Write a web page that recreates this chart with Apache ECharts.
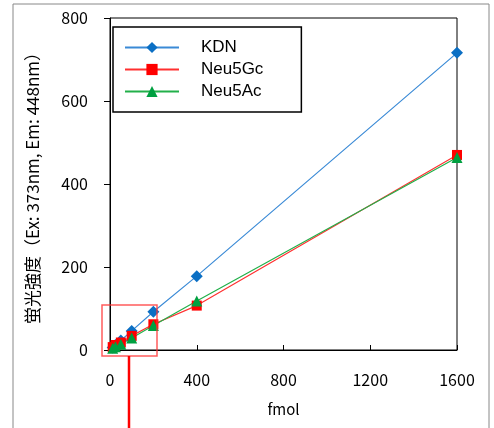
<!DOCTYPE html>
<html>
<head>
<meta charset="utf-8">
<script src="https://cdn.jsdelivr.net/npm/echarts@6/dist/echarts.min.js"></script>
<style>html,body{margin:0;padding:0;background:#fff}#c{width:494px;height:428px}</style>
</head>
<body>
<div id="c"></div>
<script>
const fmol = [12.5, 25, 50, 100, 200, 400, 1600];
const kdn = [6, 12, 23, 46, 92, 178, 716];
const neu5gc = [7, 12, 18, 34, 62, 107, 470];
const neu5ac = [4, 8, 14, 29, 59, 118, 464];
const xTicks = [0, 400, 800, 1200, 1600];
const yTicks = [0, 200, 400, 600, 800];

const pairs = v => fmol.map((x, i) => [x, v[i]]);
const font = '"Noto Sans CJK JP", sans-serif';
const chart = echarts.init(document.getElementById('c'));
chart.setOption({
  animation: false,
  grid: { left: 110, right: 37, top: 18, bottom: 78, show: true, borderColor: '#000', borderWidth: 1 },
  xAxis: {
    type: 'value', min: xTicks[0], max: xTicks[xTicks.length - 1], interval: 400,
    name: 'fmol', nameLocation: 'middle', nameGap: 52,
    nameTextStyle: { fontFamily: font, fontSize: 15, color: '#000' },
    axisLine: { show: true, lineStyle: { color: '#000', width: 1 } },
    axisTick: { show: true, inside: true, length: 5, lineStyle: { color: '#000' } },
    axisLabel: { fontFamily: font, fontSize: 16, color: '#000', margin: 22, formatter: v => String(v) },
    splitLine: { show: false }
  },
  yAxis: {
    type: 'value', min: yTicks[0], max: yTicks[yTicks.length - 1], interval: 200,
    name: '蛍光強度（Ex: 373nm, Em: 448nm）', nameLocation: 'middle', nameGap: 69,
    nameTextStyle: { fontFamily: font, fontSize: 17, color: '#000' },
    axisLine: { show: true, lineStyle: { color: '#000', width: 1 } },
    axisTick: { show: true, inside: false, length: 6, lineStyle: { color: '#000' } },
    axisLabel: { fontFamily: font, fontSize: 16, color: '#000', margin: 22, formatter: v => String(v) },
    splitLine: { show: false }
  },
  legend: {
    orient: 'vertical', left: 113, top: 27,
    padding: [12, 38, 12, 11], itemGap: 5, itemWidth: 54, itemHeight: 14,
    backgroundColor: '#fff', borderColor: '#000', borderWidth: 1.5, borderRadius: 0,
    textStyle: { fontFamily: '"Liberation Sans", Arial, sans-serif', fontSize: 17, color: '#000', padding: [0, 0, 0, 17] },
    data: ['KDN', 'Neu5Gc', 'Neu5Ac']
  },
  series: [
    { name: 'KDN', type: 'line', data: pairs(kdn), symbol: 'diamond', symbolSize: 12,
      lineStyle: { color: '#3a8ad6', width: 1.2 }, itemStyle: { color: '#0b6fc4' } },
    { name: 'Neu5Gc', type: 'line', data: pairs(neu5gc), symbol: 'rect', symbolSize: 10,
      lineStyle: { color: '#ff3030', width: 1.2 }, itemStyle: { color: '#ff0000' } },
    { name: 'Neu5Ac', type: 'line', data: pairs(neu5ac), symbol: 'triangle', symbolSize: 11,
      lineStyle: { color: '#22b04a', width: 1.2 }, itemStyle: { color: '#00a040' } }
  ],
  graphic: [
    { type: 'line', shape: { x1: 13, y1: 4, x2: 13, y2: 428 }, style: { stroke: '#888', lineWidth: 1 } },
    { type: 'line', shape: { x1: 13, y1: 4, x2: 489, y2: 4 }, style: { stroke: '#888', lineWidth: 1 } },
    { type: 'line', shape: { x1: 489, y1: 4, x2: 489, y2: 428 }, style: { stroke: '#888', lineWidth: 1 } },
    { type: 'rect', shape: { x: 102, y: 305, width: 55, height: 51 }, style: { fill: 'none', stroke: 'rgba(255,50,50,0.8)', lineWidth: 1.5 }, z: 100 },
    { type: 'line', shape: { x1: 129, y1: 356, x2: 129, y2: 428 }, style: { stroke: '#ff0000', lineWidth: 2.5 }, z: 100 }
  ]
});
</script>
</body>
</html>
